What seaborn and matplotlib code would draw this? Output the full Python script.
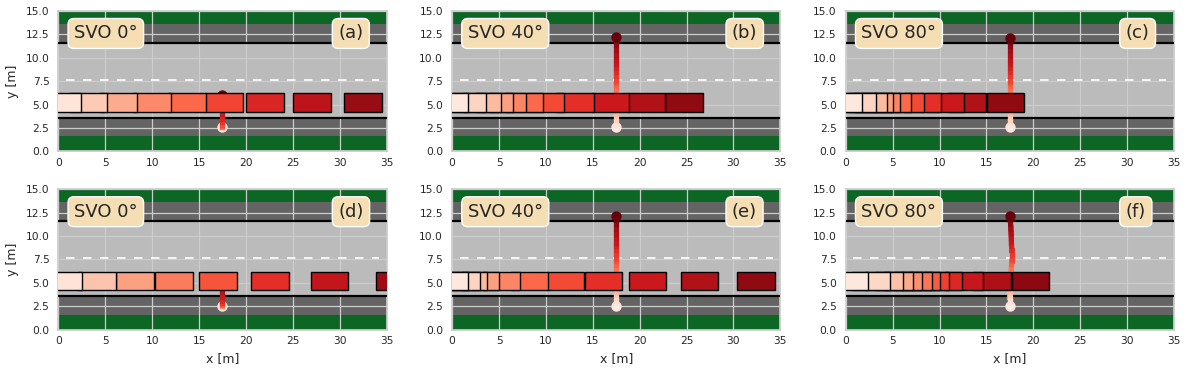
import numpy as np
import seaborn as sns
import matplotlib.pyplot as plt
from matplotlib.collections import LineCollection
from matplotlib.patches import Rectangle

CAR_LENGTH = 4.0

panel_letters = ["(a)", "(b)", "(c)", "(d)", "(e)", "(f)"]
svo_labels = ["SVO 0°", "SVO 40°", "SVO 80°", "SVO 0°", "SVO 40°", "SVO 80°"]

# front bumper of the car, one value per time step
car_front_a = [2.38, 5.23, 8.43, 11.99, 15.69, 19.64, 24.02, 29.04, 34.48]
car_front_b = [1.71, 3.56, 5.16, 6.51, 7.90, 9.65, 11.96, 15.09, 18.90, 22.75, 26.74]
car_front_c = [1.71, 3.20, 4.38, 4.99, 5.74, 6.95, 8.34, 10.15, 12.58, 14.93, 19.03]
car_front_d = [2.49, 6.09, 10.18, 14.34, 19.04, 24.56, 30.90, 37.84]
car_front_e = [1.71, 2.99, 3.74, 5.02, 7.26, 10.25, 14.10, 18.16, 22.85, 28.41, 34.42]
car_front_f = [2.32, 4.67, 6.06, 7.13, 8.09, 9.16, 10.01, 10.98, 12.37, 14.61, 17.60, 21.70]
car_fronts = [car_front_a, car_front_b, car_front_c, car_front_d, car_front_e, car_front_f]

# pedestrian track
ped_y_a = [2.55, 2.55, 2.55, 2.55, 2.55, 2.56, 2.58, 2.62, 2.7, 2.85, 3.1, 3.5, 4.0, 4.5, 5.1, 5.6, 6.0]
ped_y_d = [2.55, 2.55, 2.55, 2.55, 2.55, 2.56, 2.58, 2.62, 2.7, 2.85, 3.1, 3.5, 4.0, 4.5, 5.1, 5.5]
ped_y_b = [2.55, 2.85, 3.1, 3.4, 3.65, 3.95, 4.2, 4.7, 5.15, 5.65, 6.15, 6.55, 6.95, 7.3, 7.55,
           8.0, 8.45, 8.9, 9.35, 9.8, 10.3, 10.85, 11.35, 11.85, 12.26]
ped_y_c = [2.55, 2.85, 3.1, 3.4, 3.65, 3.95, 4.2, 4.7, 5.15, 5.65, 6.15, 6.55, 6.95, 7.3, 7.55,
           8.0, 8.45, 8.9, 9.3, 9.75, 10.25, 10.75, 11.25, 11.7, 12.09]
ped_y_e = [2.55, 2.85, 3.1, 3.4, 3.65, 3.95, 4.2, 4.7, 5.15, 5.65, 6.15, 6.55, 6.95, 7.3, 7.55,
           8.0, 8.45, 8.9, 9.3, 9.75, 10.25, 10.75, 11.25, 11.75, 12.13]
ped_y_f = [2.55, 2.85, 3.1, 3.4, 3.65, 3.95, 4.2, 4.7, 5.15, 5.65, 6.15, 6.55, 6.95, 7.3, 7.55,
           8.0, 8.45, 8.9, 9.3, 9.75, 10.25, 10.75, 11.25, 11.7, 12.1]
ped_x_f = [17.5, 17.5, 17.5, 17.5, 17.52, 17.54, 17.56, 17.58, 17.6, 17.62, 17.64, 17.66, 17.67, 17.68,
           17.68, 17.68, 17.68, 17.67, 17.66, 17.65, 17.63, 17.6, 17.57, 17.53, 17.5]
ped_ys = [ped_y_a, ped_y_b, ped_y_c, ped_y_d, ped_y_e, ped_y_f]
ped_xs = [[17.5] * 17, [17.5] * 25, [17.5] * 25, [17.5] * 16, [17.5] * 25, ped_x_f]

x_ticks = [0, 5, 10, 15, 20, 25, 30, 35]
y_ticks = [0.0, 2.5, 5.0, 7.5, 10.0, 12.5, 15.0]

sns.set_theme(style="whitegrid")
plt.rcParams["font.size"] = 8

fig, axes = plt.subplots(2, 3, figsize=(11.88, 3.73), dpi=100)
fig.subplots_adjust(left=0.0492, right=0.9882, top=0.9705, bottom=0.1165, wspace=0.2, hspace=0.27)

for i, ax in enumerate(axes.flat):
    ax.set_axisbelow(False)
    ax.axhspan(0, 15, color="#0c6624", lw=0, zorder=0)
    ax.axhspan(1.6, 13.6, color="#646464", lw=0, zorder=0.5)
    ax.axhspan(3.6, 11.6, color="#bbbbbb", lw=0, zorder=1)
    ax.axhline(3.6, color="black", lw=1.6, zorder=3)
    ax.axhline(11.6, color="black", lw=1.6, zorder=3)
    ax.plot([0.8, 34.2], [7.6, 7.6], color="white", lw=1.2, dashes=(5.1, 5.1), zorder=3)

    # pedestrian
    px, py = np.array(ped_xs[i]), np.array(ped_ys[i])
    pts = np.column_stack([px, py])
    segs = np.stack([pts[:-1], pts[1:]], axis=1)
    ped_cols = sns.color_palette("Reds", len(segs))
    ax.add_collection(LineCollection(segs, colors=ped_cols, linewidths=3.7, zorder=4, capstyle="projecting"))
    ax.plot(px[-1], py[-1], "o", ms=7.5, color="#67000d", mew=0, zorder=4.1)
    ax.plot(px[0], py[0], "o", ms=7.5, color="#fee5d9", mew=0, zorder=3.9)

    # car, earliest step on top
    fronts = car_fronts[i]
    pal = sns.color_palette("Reds", len(fronts))
    for j, front in enumerate(fronts):
        ax.add_patch(Rectangle((front - CAR_LENGTH, 4.2), CAR_LENGTH, 2.0, fc=pal[j], ec="black",
                               lw=1.0, zorder=20 - j))

    ax.set_xlim(0, 35)
    ax.set_ylim(0, 15)
    ax.set_xticks(x_ticks)
    ax.set_yticks(y_ticks)
    ax.tick_params(labelsize=7.7, length=0, colors=".15")
    ax.tick_params(axis="y", pad=6.5)
    ax.tick_params(axis="x", pad=5)
    ax.grid(True, color=".8", lw=0.9)
    for s in ax.spines.values():
        s.set_color(".8")
    box = dict(boxstyle="round,pad=0.33", fc="#f5deb3", ec="white", lw=1)
    ax.text(1.66, 12.6, svo_labels[i], fontsize=13, color=".15", va="center", ha="left", bbox=box, zorder=30)
    ax.text(29.85, 12.6, panel_letters[i], fontsize=13, color=".15", va="center", ha="left", bbox=box, zorder=30)
    if i in (0, 3):
        ax.set_ylabel("y [m]", fontsize=9, color=".15", labelpad=5)
    if i >= 3:
        ax.set_xlabel("x [m]", fontsize=9, color=".15", labelpad=4)

fig.savefig("out.png", dpi=100)
